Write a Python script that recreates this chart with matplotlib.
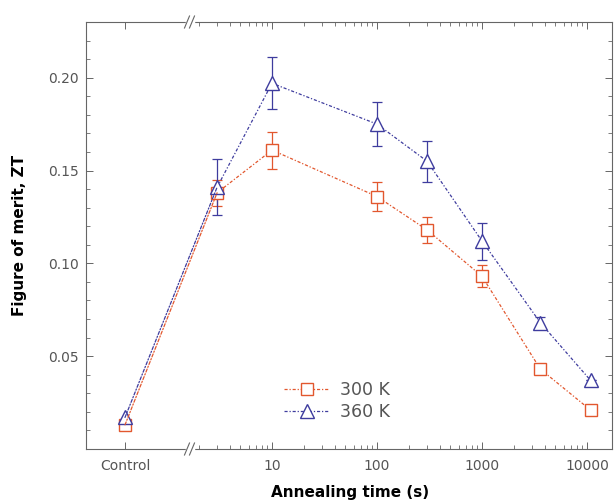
import numpy as np
import matplotlib
matplotlib.use("Agg")
import matplotlib.pyplot as plt
from matplotlib.patches import ConnectionPatch
from matplotlib.lines import Line2D
import matplotlib.ticker as mticker

# ---------- data ----------
control_label = "Control"
anneal_time = [3, 10, 100, 300, 1000, 3600, 10800]  # s

zt_300_control = 0.013
zt_300 = [0.138, 0.161, 0.136, 0.118, 0.093, 0.043, 0.021]
err_300 = [0.007, 0.010, 0.008, 0.007, 0.006, 0.0, 0.0]

zt_360_control = 0.017
zt_360 = [0.141, 0.197, 0.175, 0.155, 0.112, 0.068, 0.037]
err_360 = [0.015, 0.014, 0.012, 0.011, 0.010, 0.003, 0.0]

x_major = [10, 100, 1000, 10000]
x_major_labels = ["10", "100", "1000", "10000"]

c300 = "#E2572E"
c360 = "#3E3C9E"
gray = "#666666"

# ---------- figure / axes ----------
W, H = 614, 504
fig = plt.figure(figsize=(W / 100, H / 100), dpi=100)

def px(x0, y0, x1, y1):
    return [x0 / W, 1 - y1 / H, (x1 - x0) / W, (y1 - y0) / H]

x_brk = 190
axL = fig.add_axes(px(86, 22, x_brk, 449))
axR = fig.add_axes(px(x_brk, 22, 612, 449), sharey=axL)

# log axis: 10 at x=272 px, 105 px per decade
dec = 105.0
axR.set_xscale("log")
axR.set_xlim(10 ** (1 - (272 - x_brk) / dec), 10 ** (1 + (612 - 272) / dec))
axL.set_xlim(-1, (x_brk - 125) / (125 - 86))
axL.set_ylim(0.0, 0.23)

ls = (0, (2.5, 1.5, 1, 1.5))
for ax in (axL, axR):
    for s in ax.spines.values():
        s.set_color(gray)
        s.set_linewidth(0.8)
    ax.tick_params(which="both", direction="in", colors=gray, labelcolor="#555555",
                   labelsize=10, top=True, right=True)
    ax.tick_params(which="major", length=5, width=0.7)
    ax.tick_params(which="minor", length=3, width=0.6)
    ax.tick_params(axis="x", pad=7)
    ax.tick_params(axis="y", pad=5)

axL.spines["right"].set_visible(False)
axR.spines["left"].set_visible(False)
axL.tick_params(axis="y", which="both", right=False)
axR.tick_params(axis="y", which="both", left=False, labelleft=False)

axL.set_xticks([0])
axL.set_xticklabels([control_label])
axL.xaxis.set_minor_locator(mticker.NullLocator())

axR.xaxis.set_major_locator(mticker.FixedLocator(x_major))
axR.xaxis.set_major_formatter(mticker.FixedFormatter(x_major_labels))
axR.xaxis.set_minor_locator(mticker.LogLocator(base=10, subs=np.arange(2, 10)))
axR.xaxis.set_minor_formatter(mticker.NullFormatter())

axL.yaxis.set_minor_locator(mticker.MultipleLocator(0.01))
axL.set_yticks([0.05, 0.10, 0.15, 0.20])
axL.yaxis.set_major_formatter(mticker.FormatStrFormatter("%.2f"))

# ---------- series ----------
series = [
    (zt_300_control, zt_300, err_300, c300, "s", 8, "300 K"),
    (zt_360_control, zt_360, err_360, c360, "^", 9.5, "360 K"),
]
handles = []
for ctrl, y, e, c, m, ms, lab in series:
    axR.errorbar(anneal_time, y, yerr=e, fmt="none", ecolor=c, elinewidth=0.9,
                 capsize=3.5, capthick=0.9, zorder=3)
    h, = axR.plot(anneal_time, y, color=c, ls=ls, lw=0.9, marker=m, ms=ms,
                  mfc="white", mec=c, mew=1.0, zorder=4, label=lab)
    handles.append(h)
    axL.plot([0], [ctrl], color=c, marker=m, ms=ms, mfc="white", mec=c,
             mew=1.0, zorder=4, ls="none")
    con = ConnectionPatch(xyA=(0, ctrl), coordsA=axL.transData,
                          xyB=(anneal_time[0], y[0]), coordsB=axR.transData,
                          color=c, lw=0.9, ls=ls, zorder=2)
    fig.add_artist(con)

leg = fig.legend(handles, [h.get_label() for h in handles], loc="upper left",
                 bbox_to_anchor=(277 / W, 1 - 374 / H), frameon=False,
                 fontsize=12.5, handlelength=2.6, handletextpad=0.6,
                 labelspacing=0.25, borderaxespad=0)
for t in leg.get_texts():
    t.set_color("#555555")

# ---------- labels ----------
fig.text(350 / W, 1 - 493 / H, "Annealing time (s)", ha="center", va="center",
         fontsize=11, fontweight="bold")
fig.text(20 / W, 1 - 235 / H, "Figure of merit, ZT", ha="center", va="center",
         rotation=90, fontsize=11, fontweight="bold")

# ---------- break marks ----------
for yb in (22, 449):
    fig.add_artist(Line2D([(x_brk - 3) / W, (x_brk + 3) / W],
                          [1 - yb / H, 1 - yb / H], color="white", lw=2.5, zorder=10))
    for xo in (-3, 2):
        fig.add_artist(Line2D([(x_brk + xo - 2.5) / W, (x_brk + xo + 2.5) / W],
                              [1 - (yb + 6) / H, 1 - (yb - 6) / H],
                              color=gray, lw=0.8, zorder=11))

fig.savefig("out.png", dpi=100)
